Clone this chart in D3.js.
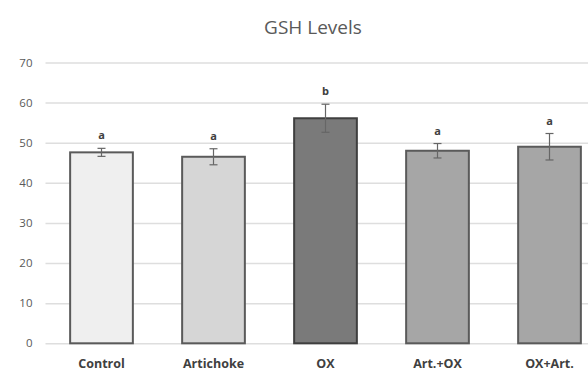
<!DOCTYPE html>
<html>
<head>
<meta charset="utf-8">
<script src="https://cdn.jsdelivr.net/npm/d3@7/dist/d3.min.js"></script>
<style>
  html, body { margin: 0; padding: 0; background: #fff; }
  svg { display: block; }
</style>
</head>
<body>
<svg id="chart" width="588" height="371"></svg>
<script>
// GSH levels per treatment group (mean ± error) with significance letters
const categories = ["Control", "Artichoke", "OX", "Art.+OX", "OX+Art."];
const means      = [47.6, 46.5, 56.1, 48.0, 49.0];
const errors     = [1.0, 2.0, 3.5, 1.8, 3.3];
const letters    = ["a", "a", "b", "a", "a"];
const fills      = ["#efefef", "#d6d6d6", "#7a7a7a", "#a6a6a6", "#a6a6a6"];
const strokes    = ["#5a5a5a", "#5a5a5a", "#3f3f3f", "#5a5a5a", "#5a5a5a"];
const yTicks     = [0, 10, 20, 30, 40, 50, 60, 70];

const svg = d3.select("#chart");
const margin = { left: 45.5, top: 62.5, bottom: 27.5 };
const plotRight = 605.5;
const H = 371;

const x = d3.scaleBand()
  .domain(categories)
  .range([margin.left, plotRight])
  .paddingInner(0.44)
  .paddingOuter(0.22);

const y = d3.scaleLinear()
  .domain([0, 70])
  .range([H - margin.bottom - 0.2, margin.top]);

// Title
svg.append("text")
  .attr("x", 313)
  .attr("y", 34)
  .attr("text-anchor", "middle")
  .attr("font-family", "Open Sans, Liberation Sans, sans-serif")
  .attr("font-size", 19)
  .attr("fill", "#595959")
  .text("GSH Levels");

// Gridlines and y tick labels
const yAxis = d3.axisLeft(y)
  .tickValues(yTicks)
  .tickSize(-(plotRight - margin.left))
  .tickPadding(13);

const gy = svg.append("g")
  .attr("transform", `translate(${margin.left},0)`)
  .call(yAxis);
gy.select(".domain").remove();
gy.selectAll(".tick line")
  .attr("stroke", "#dedede")
  .attr("stroke-width", 1.5);
gy.selectAll(".tick text")
  .attr("font-family", "Open Sans, Liberation Sans, sans-serif")
  .attr("font-size", 11.5)
  .attr("fill", "#595959");

// Bars
const bars = svg.append("g");
bars.selectAll("rect")
  .data(categories)
  .join("rect")
  .attr("x", d => x(d))
  .attr("width", x.bandwidth())
  .attr("y", (d, i) => y(means[i]))
  .attr("height", (d, i) => y(0) - y(means[i]))
  .attr("fill", (d, i) => fills[i])
  .attr("stroke", (d, i) => strokes[i])
  .attr("stroke-width", 2);

// Error bars
const eb = svg.append("g")
  .attr("stroke", "#666")
  .attr("stroke-width", 1.2);
categories.forEach((c, i) => {
  const cx = x(c) + x.bandwidth() / 2;
  const y1 = y(means[i] + errors[i]);
  const y2 = y(means[i] - errors[i]);
  eb.append("line").attr("x1", cx).attr("x2", cx).attr("y1", y1).attr("y2", y2);
  eb.append("line").attr("x1", cx - 4).attr("x2", cx + 4).attr("y1", y1).attr("y2", y1);
  eb.append("line").attr("x1", cx - 4).attr("x2", cx + 4).attr("y1", y2).attr("y2", y2);
});

// Significance letters
svg.append("g")
  .selectAll("text")
  .data(categories)
  .join("text")
  .attr("x", d => x(d) + x.bandwidth() / 2)
  .attr("y", (d, i) => y(means[i] + errors[i]) - 9)
  .attr("text-anchor", "middle")
  .attr("font-family", "Open Sans, Liberation Sans, sans-serif")
  .attr("font-size", 11)
  .attr("font-weight", "bold")
  .attr("fill", "#404040")
  .text((d, i) => letters[i]);

// Category labels
const xAxis = d3.axisBottom(x).tickSize(0).tickPadding(16);
const gx = svg.append("g")
  .attr("transform", `translate(0,${y(0)})`)
  .call(xAxis);
gx.select(".domain").remove();
gx.selectAll(".tick text")
  .attr("font-family", "Open Sans, Liberation Sans, sans-serif")
  .attr("font-size", 12.5)
  .attr("font-weight", "bold")
  .attr("fill", "#404040");
</script>
</body>
</html>
